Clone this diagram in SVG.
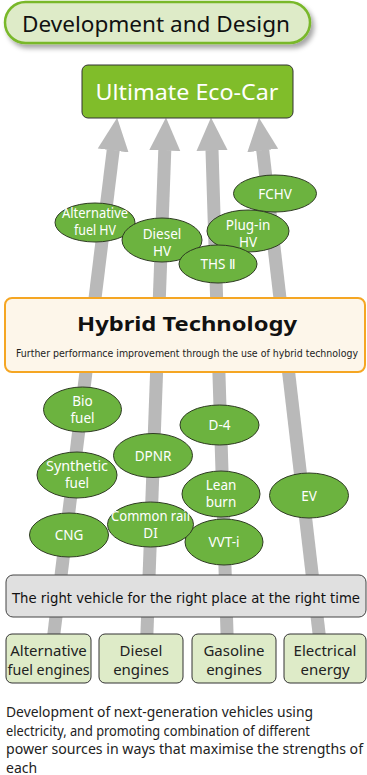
<svg xmlns="http://www.w3.org/2000/svg" width="367" height="775" viewBox="0 0 367 775">
<style>
text{font-family:"Noto Sans","DejaVu Sans",sans-serif;}
.cond{font-family:"DejaVu Sans Condensed","Liberation Sans Narrow","Noto Sans",sans-serif;}
.ell{fill:#6cb33f;stroke:#2e3b22;stroke-width:1;}
.et{fill:#fff;font-size:13.5px;text-anchor:middle;}
.shaft{stroke:#b9b9b9;stroke-width:13;fill:none;}
.eng{fill:#deebc8;stroke:#333;stroke-width:1;}
.engt{fill:#222;font-size:15px;text-anchor:middle;}
.cap{fill:#222;font-size:14px;}
</style>
<defs>
<marker id="ah" markerUnits="userSpaceOnUse" markerWidth="33" markerHeight="32" viewBox="0 0 33 32" refX="0.5" refY="16" orient="auto">
<path d="M0,0.5 L33,16 L0,31.5 z" fill="#b9b9b9"/>
</marker>
<filter id="sh" x="-10%" y="-30%" width="125%" height="180%">
<feDropShadow dx="3" dy="4" stdDeviation="2.5" flood-color="#000" flood-opacity="0.35"/>
</filter>
</defs>

<g id="connectors">
<line class="shaft" x1="52.5" y1="645" x2="113.2" y2="150" marker-end="url(#ah)"/>
<line class="shaft" x1="146.5" y1="645" x2="164.8" y2="150" marker-end="url(#ah)"/>
<line class="shaft" x1="227.4" y1="645" x2="212" y2="150" marker-end="url(#ah)"/>
<line class="shaft" x1="320.4" y1="645" x2="262.7" y2="150" marker-end="url(#ah)"/>
</g>

<g id="dev-design">
<rect x="5" y="2" width="305" height="41" rx="20.5" fill="#deebc8" stroke="#79b82b" stroke-width="2.5" filter="url(#sh)"/>
<text x="156" y="32" font-size="22" text-anchor="middle" fill="#111" textLength="268" lengthAdjust="spacingAndGlyphs">Development and Design</text>
</g>

<g id="eco-car">
<rect x="82" y="65" width="211" height="53" rx="6" fill="#80bd2a" stroke="#333" stroke-width="1"/>
<text x="187" y="100" font-size="22" text-anchor="middle" fill="#fff" textLength="183" lengthAdjust="spacingAndGlyphs">Ultimate Eco-Car</text>
</g>

<g id="fchv"><ellipse class="ell" cx="275" cy="193.5" rx="41.5" ry="18.5"/><text class="et" x="275" y="198.5">FCHV</text></g>
<g id="alt-fuel-hv"><ellipse class="ell" cx="95" cy="222.5" rx="40" ry="19.5"/><text class="et" x="95" y="217.5" font-size="12.5" textLength="66" lengthAdjust="spacingAndGlyphs">Alternative</text><text class="et" x="95" y="234.5" font-size="12.5" textLength="42" lengthAdjust="spacingAndGlyphs">fuel HV</text></g>
<g id="diesel-hv"><ellipse class="ell" cx="162" cy="240" rx="40" ry="22"/><text class="et" x="162" y="238.5">Diesel</text><text class="et" x="162" y="255.5">HV</text></g>
<g id="plugin-hv"><ellipse class="ell" cx="248" cy="231" rx="41" ry="21"/><text class="et" x="248" y="229.5">Plug-in</text><text class="et" x="248" y="246.5">HV</text></g>
<g id="ths2"><ellipse class="ell" cx="218" cy="264" rx="39" ry="19"/><text class="et" x="218" y="269">THS Ⅱ</text></g>

<g id="hybrid">
<rect x="5" y="298" width="360" height="74" rx="7" fill="#fdf6ea" stroke="#f5a623" stroke-width="2"/>
<text x="187" y="331" font-size="20" font-weight="bold" text-anchor="middle" fill="#111" textLength="220" lengthAdjust="spacingAndGlyphs">Hybrid Technology</text>
<text class="cond" x="187" y="357" font-size="10.5" text-anchor="middle" fill="#222" textLength="342" lengthAdjust="spacingAndGlyphs">Further performance improvement through the use of hybrid technology</text>
</g>

<g id="bio-fuel"><ellipse class="ell" cx="82.5" cy="409.5" rx="39" ry="22.5"/><text class="et" x="82.5" y="405.5">Bio</text><text class="et" x="82.5" y="422.5">fuel</text></g>
<g id="d4"><ellipse class="ell" cx="219.5" cy="425" rx="39.5" ry="20"/><text class="et" x="219.5" y="430">D-4</text></g>
<g id="dpnr"><ellipse class="ell" cx="153" cy="455.5" rx="39.5" ry="22"/><text class="et" x="153" y="460.5">DPNR</text></g>
<g id="synthetic-fuel"><ellipse class="ell" cx="77" cy="475" rx="40" ry="23"/><text class="et" x="77" y="470.5" textLength="62" lengthAdjust="spacingAndGlyphs">Synthetic</text><text class="et" x="77" y="487.5">fuel</text></g>
<g id="lean-burn"><ellipse class="ell" cx="221" cy="494" rx="39" ry="23"/><text class="et" x="221" y="489.5">Lean</text><text class="et" x="221" y="506.5">burn</text></g>
<g id="ev"><ellipse class="ell" cx="309" cy="495.5" rx="39.5" ry="22.5"/><text class="et" x="309" y="500.5">EV</text></g>
<g id="cng"><ellipse class="ell" cx="69" cy="535" rx="39.5" ry="22"/><text class="et" x="69" y="540">CNG</text></g>
<g id="vvti"><ellipse class="ell" cx="224" cy="542" rx="39" ry="23"/><text class="et" x="224" y="547">VVT-i</text></g>
<g id="common-rail"><ellipse class="ell" cx="150.5" cy="524.5" rx="43" ry="22.5"/><text class="et" x="150.5" y="520.5" textLength="79" lengthAdjust="spacingAndGlyphs">Common rail</text><text class="et" x="150.5" y="537.5">DI</text></g>

<g id="right-vehicle">
<rect x="6" y="575" width="360" height="42" rx="7" fill="#e0e0e0" stroke="#444" stroke-width="1"/>
<text class="cond" x="186" y="602.5" font-size="14.5" text-anchor="middle" fill="#111" textLength="348" lengthAdjust="spacingAndGlyphs">The right vehicle for the right place at the right time</text>
</g>

<g id="alt-engines"><rect class="eng" x="6" y="634" width="85" height="49" rx="6"/><text class="engt" x="48.5" y="656">Alternative</text><text class="engt" x="48.5" y="675" textLength="82" lengthAdjust="spacingAndGlyphs">fuel engines</text></g>
<g id="diesel-engines"><rect class="eng" x="99" y="634" width="84" height="49" rx="6"/><text class="engt" x="141" y="656">Diesel</text><text class="engt" x="141" y="675">engines</text></g>
<g id="gasoline-engines"><rect class="eng" x="192" y="634" width="84" height="49" rx="6"/><text class="engt" x="234" y="656">Gasoline</text><text class="engt" x="234" y="675">engines</text></g>
<g id="electrical"><rect class="eng" x="284" y="634" width="82" height="49" rx="6"/><text class="engt" x="325" y="656">Electrical</text><text class="engt" x="325" y="675">energy</text></g>

<g id="caption">
<text class="cap" x="6" y="717" textLength="307" lengthAdjust="spacingAndGlyphs">Development of next-generation vehicles using</text>
<text class="cap" x="6" y="735.5" textLength="304" lengthAdjust="spacingAndGlyphs">electricity, and promoting combination of different</text>
<text class="cap" x="6" y="754" textLength="357" lengthAdjust="spacingAndGlyphs">power sources in ways that maximise the strengths of</text>
<text class="cap" x="6" y="772.5">each</text>
</g>
</svg>
